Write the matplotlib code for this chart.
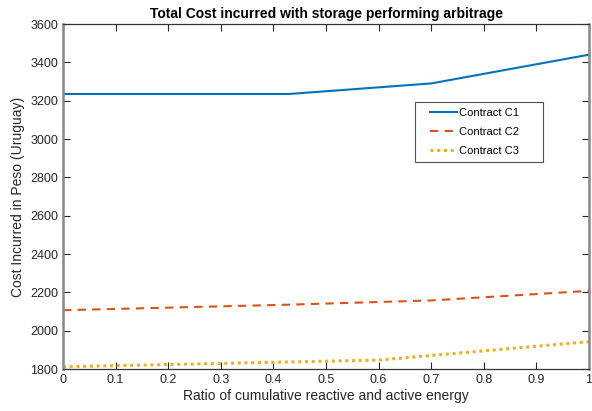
import matplotlib.pyplot as plt
from matplotlib.lines import Line2D
from matplotlib.legend_handler import HandlerLine2D
import numpy as np

plt.rcParams['font.family'] = ['Liberation Sans', 'DejaVu Sans']

# data
x_c1 = [0, 0.43, 0.7, 1.0]
cost_c1 = [3235, 3235, 3290, 3440]

x_c2 = [0, 0.43, 0.7, 1.0]
cost_c2 = [2107, 2136, 2158, 2208]

x_c3 = [0, 0.43, 0.6, 1.0]
cost_c3 = [1812, 1837, 1847, 1943]

xticks = [0, 0.1, 0.2, 0.3, 0.4, 0.5, 0.6, 0.7, 0.8, 0.9, 1]
yticks = [1800, 2000, 2200, 2400, 2600, 2800, 3000, 3200, 3400, 3600]

fig = plt.figure(figsize=(5.92, 4.11), dpi=100)
ax = fig.add_axes([0.1064, 0.102, 0.8886, 0.8396])

ax.plot(x_c1, cost_c1, '-', color='#0072BD', linewidth=1.5, label='Contract C1')
ax.plot(x_c2, cost_c2, '--', color='#D95319', linewidth=1.5, dashes=(4, 3), label='Contract C2')
ax.plot(x_c3, cost_c3, ':', color='#EDB120', linewidth=2.2, dashes=(1, 1.2), label='Contract C3')

ax.set_xlim(0, 1)
ax.set_ylim(1800, 3600)
ax.set_xticks(xticks)
ax.set_xticklabels(['0', '0.1', '0.2', '0.3', '0.4', '0.5', '0.6', '0.7', '0.8', '0.9', '1'])
ax.set_yticks(yticks)
ax.tick_params(direction='in', top=True, right=True, labelsize=9, colors='#262626', length=5)

for s in ['top', 'bottom']:
    ax.spines[s].set_color('#333333')
    ax.spines[s].set_linewidth(0.9)
for s in ['left', 'right']:
    ax.spines[s].set_color('#888888')
    ax.spines[s].set_linewidth(1.8)

ax.set_xlabel('Ratio of cumulative reactive and active energy', fontsize=10, color='#262626', labelpad=2)
ax.set_ylabel('Cost Incurred in Peso (Uruguay)', fontsize=10, color='#262626', labelpad=4)
ax.set_title('Total Cost incurred with storage performing arbitrage', fontsize=10, fontweight='bold', pad=4)

# matlab-like legend box: wide, extra room on the right
leg = ax.legend(loc='upper left', bbox_to_anchor=(0.669, 0.60, 0.2433, 0.1739), mode='expand',
                fontsize=8, frameon=True, fancybox=False, edgecolor='#262626',
                handlelength=3.3, handletextpad=0.2, borderpad=0.5, labelspacing=0.83,
                borderaxespad=0, handler_map={Line2D: HandlerLine2D(xpad=0.85)})
leg.get_frame().set_linewidth(0.8)

fig.savefig('out.png', dpi=100)
